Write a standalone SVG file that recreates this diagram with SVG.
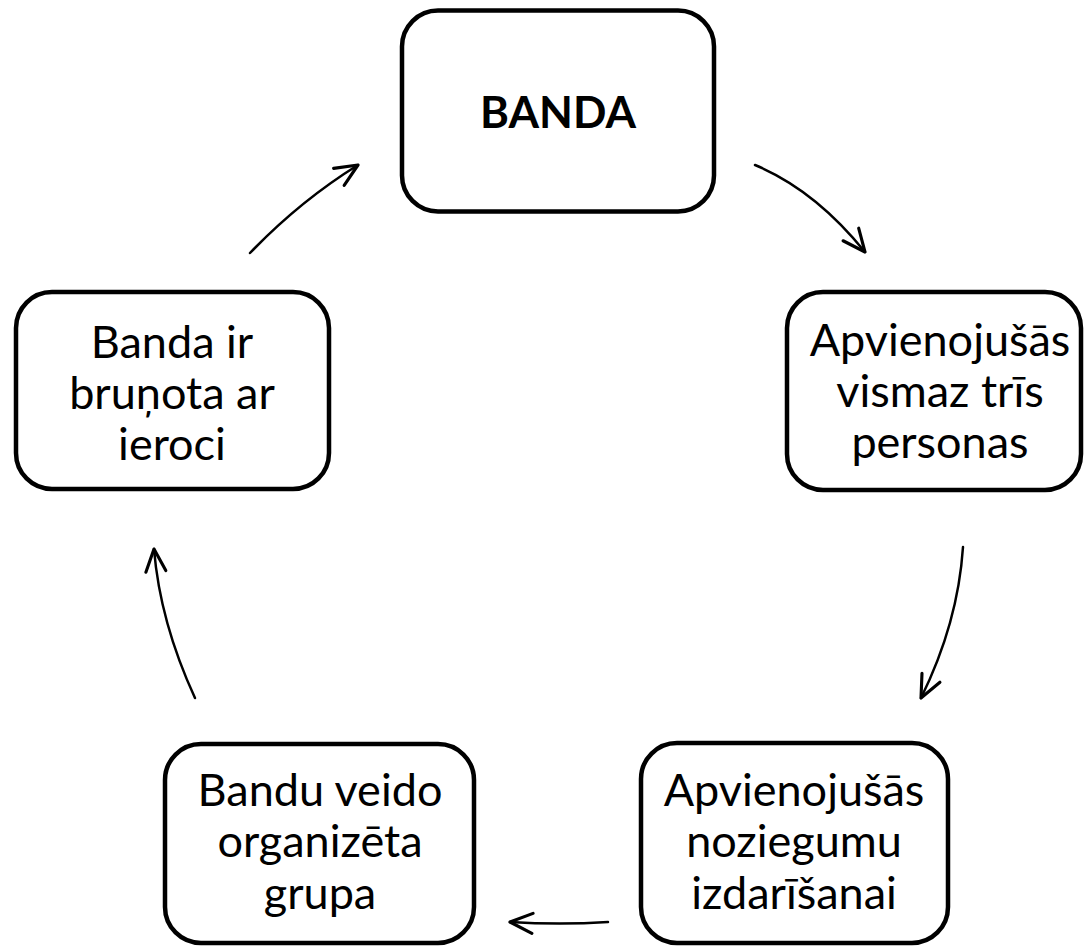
<svg xmlns="http://www.w3.org/2000/svg" width="1084" height="949" viewBox="0 0 1084 949">
<defs>
<style>
.box{fill:#fff;stroke:#000;stroke-width:4.5}
.t{font-family:Lato,"Open Sans",sans-serif;font-size:45px;fill:#000;text-anchor:middle}
.b{font-weight:bold;font-size:44px}
.c{fill:none;stroke:#000;stroke-width:2.5;stroke-linecap:round}
</style>
<marker id="ah" markerUnits="userSpaceOnUse" markerWidth="30" markerHeight="30" viewBox="-20 -12 24 24" refX="0" refY="0" orient="auto">
<path d="M-18,-8 L0,0 L-18,8" fill="none" stroke="#000" stroke-width="2.5" stroke-linecap="round" stroke-linejoin="round"/>
</marker>
</defs>
<rect width="1084" height="949" fill="#fff"/>
<g id="connectors">
<path class="c" d="M755,165 Q815,190 865,252" marker-end="url(#ah)"/>
<path class="c" d="M963,547 Q958,623 921,698" marker-end="url(#ah)"/>
<path class="c" d="M608,922 Q560,925 510,922" marker-end="url(#ah)"/>
<path class="c" d="M195,698 Q160,622 154,549" marker-end="url(#ah)"/>
<path class="c" d="M250,253 Q300,201 358,165" marker-end="url(#ah)"/>
</g>
<g id="node-banda">
<rect class="box" x="402" y="10.5" width="312" height="201" rx="36"/>
<text class="t b" x="558" y="128">BANDA</text>
</g>
<g id="node-apvienojusas-personas">
<rect class="box" x="787" y="292" width="294" height="198" rx="36"/>
<text class="t" x="940" y="356">Apvienojušās</text>
<text class="t" x="940" y="407">vismaz trīs</text>
<text class="t" x="940" y="458">personas</text>
</g>
<g id="node-apvienojusas-noziegumu">
<rect class="box" x="641" y="743" width="307" height="200" rx="36"/>
<text class="t" x="794" y="806">Apvienojušās</text>
<text class="t" x="794" y="857">noziegumu</text>
<text class="t" x="794" y="909">izdarīšanai</text>
</g>
<g id="node-bandu-veido">
<rect class="box" x="165" y="744" width="309" height="199" rx="36"/>
<text class="t" x="320" y="806">Bandu veido</text>
<text class="t" x="320" y="857">organizēta</text>
<text class="t" x="320" y="909">grupa</text>
</g>
<g id="node-banda-ir">
<rect class="box" x="16" y="292" width="313" height="197" rx="36"/>
<text class="t" x="172" y="358">Banda ir</text>
<text class="t" x="172" y="409">bruņota ar</text>
<text class="t" x="172" y="460">ieroci</text>
</g>
</svg>
